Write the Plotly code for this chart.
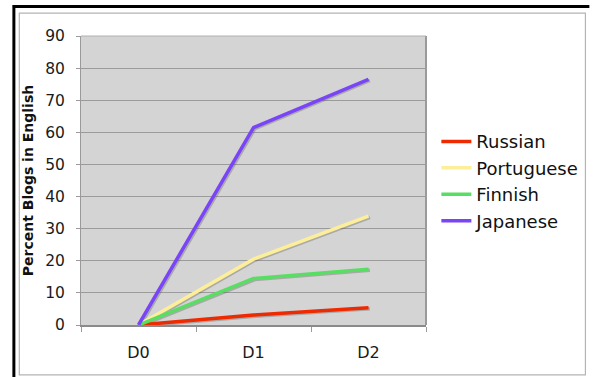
import plotly.graph_objects as go

# Share of blogs written in English, by language group and stage
stages = ["D0", "D1", "D2"]
russian = [0, 3.1, 5.4]
portuguese = [0, 20.5, 33.9]
finnish = [0, 14.5, 17.4]
japanese = [0, 61.5, 76.5]

series = [
    ("Russian", russian, "#ee2a00"),
    ("Portuguese", portuguese, "#fdef9a"),
    ("Finnish", finnish, "#58de62"),
    ("Japanese", japanese, "#7a45f7"),
]

W, H = 595, 377
L, R, T, B = 81, 430.5, 35.5, 325  # plot area in pixels


def px(x):
    return (x - L) / (R - L)


def py(y):
    return (B - y) / (B - T)


FONT = "DejaVu Sans"
fig = go.Figure()

# base axes carry the ticks and grid; these traces are transparent
for name, vals, col in series:
    fig.add_trace(go.Scatter(
        x=stages, y=vals, mode="lines",
        line=dict(color="rgba(0,0,0,0)", width=1),
        showlegend=False, hoverinfo="skip",
    ))

# soft drop shadows, drawn on a slightly offset overlay axis
for name, vals, col in series:
    fig.add_trace(go.Scatter(
        x=stages, y=vals, mode="lines", xaxis="x2", yaxis="y2",
        line=dict(color="rgba(90,90,90,0.35)", width=3.5),
        showlegend=False, hoverinfo="skip",
    ))

for name, vals, col in series:
    fig.add_trace(go.Scatter(
        x=stages, y=vals, name=name, mode="lines", xaxis="x3", yaxis="y3",
        line=dict(color=col, width=3.5),
    ))

xr = [-0.5, 2.5]
yr = [0, 90]
dx = 0.012  # ~1.4 px
dy = 0.35   # ~1.1 px

fig.update_layout(
    width=W, height=H,
    margin=dict(l=L, r=W - R, t=T, b=H - B, pad=0),
    paper_bgcolor="white",
    plot_bgcolor="#d4d4d4",
    font=dict(family=FONT, size=15, color="#1a1a1a"),
    xaxis=dict(
        type="category", range=xr, showgrid=False, zeroline=False,
        showline=True, linecolor="#8a8a8a", linewidth=1.5,
        ticks="outside", ticklen=5, tickcolor="#9a9a9a",
        tickson="boundaries", tickfont=dict(size=16),
        ticklabelstandoff=12,
        categoryorder="array", categoryarray=stages,
    ),
    yaxis=dict(
        range=yr, dtick=10, showgrid=True, gridcolor="#9b9b9b", gridwidth=1,
        zeroline=False, showline=True, linecolor="#9a9a9a", linewidth=1,
        ticks="outside", ticklen=4, tickcolor="#9a9a9a",
        tickfont=dict(size=15.5), ticklabelstandoff=8,
        title=dict(text="<b>Percent Blogs in English</b>",
                   font=dict(size=14, color="#111"), standoff=8),
    ),
    xaxis2=dict(type="category", range=[xr[0] - dx, xr[1] - dx],
                overlaying="x", visible=False,
                categoryorder="array", categoryarray=stages),
    yaxis2=dict(range=[yr[0] + dy, yr[1] + dy], overlaying="y", visible=False),
    xaxis3=dict(type="category", range=xr, overlaying="x", visible=False,
                categoryorder="array", categoryarray=stages),
    yaxis3=dict(range=yr, overlaying="y", visible=False),
    legend=dict(
        x=px(441), y=py(181), xanchor="left", yanchor="middle",
        font=dict(size=18, family=FONT, color="#111"),
        bgcolor="rgba(0,0,0,0)", tracegroupgap=0, itemwidth=30,
    ),
    shapes=[
        # plot area right and top edges
        dict(type="line", xref="paper", yref="paper", x0=1, x1=1, y0=0, y1=1,
             line=dict(color="#9a9a9a", width=2)),
        dict(type="line", xref="paper", yref="paper", x0=0, x1=1, y0=1, y1=1,
             line=dict(color="#b0b0b0", width=1)),
        # inner chart frame
        dict(type="rect", xref="paper", yref="paper",
             x0=px(18.5), x1=px(592), y0=py(375), y1=py(12.5),
             line=dict(color="#b4b4b4", width=1.2), layer="below"),
        # outer black frame (top and left)
        dict(type="line", xref="paper", yref="paper",
             x0=px(12), x1=px(596), y0=py(6), y1=py(6),
             line=dict(color="black", width=3)),
        dict(type="line", xref="paper", yref="paper",
             x0=px(13), x1=px(13), y0=py(4.5), y1=py(378),
             line=dict(color="black", width=3)),
    ],
)

fig.write_html("out.html")
